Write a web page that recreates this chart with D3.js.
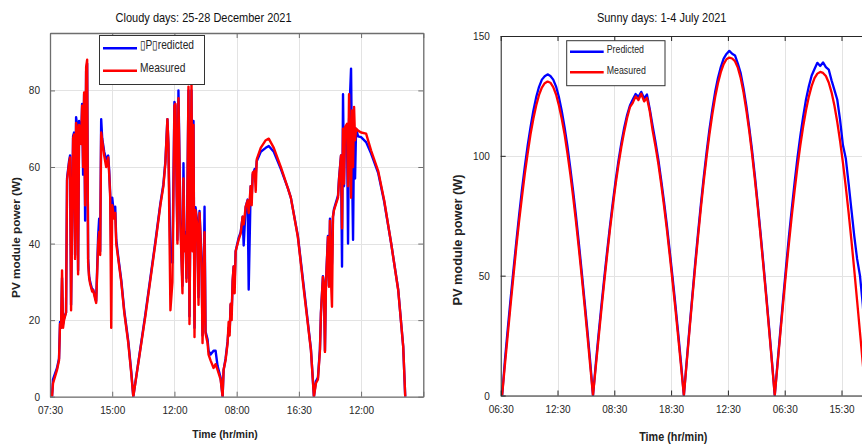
<!DOCTYPE html>
<html><head><meta charset="utf-8">
<script src="https://cdn.jsdelivr.net/npm/d3@7"></script>
<style>body{margin:0;background:#fff}svg{display:block}</style>
</head><body>
<svg id="c" width="862" height="445"></svg>
<script>
// ---------- DATA ----------
const cloudyTickLabels = ["07:30","15:00","12:00","08:00","16:30","12:00"];
const cloudyYTicks = [0,20,40,60,80];
const cloudySample = [2,3,7,9,10,11,12,13,14,16,17,19,20,21,23,24,25,26,27,28,29,31,32,33,34,35,36,37,38,39,40,42,43,45,46,48,49,50,51,52,54,56,58,59,60,61,62,64,65,66,68,71,74,78,81,83,
 95,105,110,113,115,117,118,120,122,124,125,127,128,130,132,133,134,135,136,138,139,141,142,143,144,145,147,148,149,151,152,153,154,155,157,158,160,163,165,167,170,172,
 173,175,177,178,179,180,181,182,183,184,185,188,190,192,193,195,197,198,200,201,202,204,205,206,210,215,218,223,230,237,240,247,253,260,263,
 265,267,269,270,272,273,274,275,277,278,279,280,281,282,283,287,288,290,291,292,293,294,296,297,298,300,301,302,303,304,305,307,310,315,320,327,333,340,347,352,354];
const cloudyMeasured = [0,3.5,7,9.5,19,18,33,18,20,22,56.5,61,62.5,22.6,67.5,68.5,36,71.5,70,32,71,66,76,60,79.5,50,86,88,35,31,29.5,27.5,27.8,25.5,24.5,40,43,37,69,67,63,60,62.5,58,52,18,50,46.5,48,40,36,30,22,14,6,0,
 21,40,50,55,61,72.5,66,22.6,30,76,76.5,40,78,45,27,57,38,42,30,81,19,82,38,71,15.6,48.7,44,24,48,35,14,26,43,16.5,14,11,9.5,7.5,8.5,7,4.5,0,
 7,9.6,14,19.5,16,24.3,20,30.4,34,27,38,41,42.6,47,45,49.6,51.3,48,55,50,58.5,59,53.5,62,65,67,67.4,65,60,54.5,52,41.7,27.8,12.2,0,
 3.5,4.5,12,21.7,31.3,29,11.7,29.6,41.7,28.7,46,30.4,23.5,47,48.7,52,56.5,63,44,70,55.6,70.4,71.3,55,79,52,74.8,60,75.7,67,70,69.5,69,68.7,64.3,59,51.3,40,27.8,13,0];
const cloudyPredicted = [0,4.5,7.5,10,19.5,18,31,19,20.5,22,57,61.5,63,24,68,69,37,73,71,33,72,67,76.5,58,79,46,85,87,36,31.5,30,28,28,26,25,42,46.5,38,72.5,67.5,64,62,63,59,53,38,52,47,49.6,41,36.5,30.5,22.5,14.5,6.5,0,
 21.5,40.5,50.5,55.5,61.5,72.5,66,36,35,77,76,41,80,46,29,61,39,43,31,80,21,80,39,72,18,49.5,45,26,48.5,36,16,27,49.6,17,15,12,11,12,12,8,5,0,
 7,10,14.5,18,17,24,22,30,34,30,38,41.5,43,47,39.5,49.6,51.5,28,55,52,58,59.5,58,61.5,64,65,65.5,64,59.5,54.5,52,42,28.5,12.5,0,
 4,5,12.5,22,31.5,29,12,30,42,29,46.5,31,35,47,49,52.5,57,63,34,79,55,70,70,40,72,85.7,60,41,70,57,70,68,67.8,66.5,63.5,58.5,51,40,28,13,0];

const sunnyTickLabels = ["06:30","12:30","08:30","18:30","12:30","06:30","15:30"];
const sunnyYTicks = [0,50,100,150];
const sunnyMeasured = [0,
 13,25.5,38,50,62,73,83,92.6,101,109,115.5,121,125.4,128.5,130.3,131,130.5,128.7,125.6,121,115.5,109,101,92.5,83,72.7,61.6,50,38,25.5,12.7,0,
 12.2,24.4,36.3,47.8,58.9,69.5,79.2,88.4,96.6,103.9,110.2,115.8,120.3,122.1,124.8,123.3,125.9,122.7,124.2,118.5,110.5,104,96.8,88.3,79.2,69.4,58.8,47.7,36.3,24.4,12.2,0,
 13.8,27.5,40.9,54,66.4,78.4,89.4,99.7,109,117.2,124.4,130.3,134.9,138.3,140.3,141,140.6,139.5,136.8,132.5,126.5,119,110.5,100.8,90.2,78.8,66.6,54,40.9,27.5,13.8,0,
 13.2,26.3,39.2,51.7,63.6,75,85.6,95.5,104.4,112.2,119,124.7,129.2,132.4,134.3,135,134.6,133.3,130.6,126.5,121,114.2,106.2,97.2,87.2,76.3,64.6,52.3,39.5,26.5,13.4,0];
const sunnyPredicted = [0,
 15,28,40.5,52.5,64.2,75.5,86,95.6,104.3,112,118.8,124.5,128.8,131.8,133.2,134,133.3,131.8,128.9,124.5,118.7,111.8,104,95,85.4,75,63.8,52,39.8,27.5,14.5,0,
 13.5,26,38,49.5,60.5,71,80.8,90,98.2,105.5,111.8,117,121,123.5,125.8,124.6,126.7,124,125.6,119.5,112.5,105.8,98.5,90,81,71.2,60.5,49.5,38,26,13.5,0,
 14.5,28.5,42,55.5,68,80,91.2,101.5,111,119.3,126.6,132.5,137,140.6,142.5,143.8,142.6,141.9,138.5,134.5,128.2,120.8,112,102.4,91.6,80,67.8,55,42,28.5,14.5,0,
 14,27.6,41,54,66.5,78,89,99.2,108.3,116.3,123.5,129,133.5,136.2,138.8,137.5,139,137,136,131.5,127.5,123.5,115,104.5,99,88.5,77.5,66.5,57,50,38,20];

const legendCloudy = ["\u25AFP\u25AFredicted","Measured"];
const legendSunny = ["Predicted","Measured"];

// ---------- DRAW ----------
const FONT = '"Liberation Sans", Arial, Helvetica, sans-serif';
const TXT = "#262626";
const svg = d3.select("#c");
svg.append("rect").attr("width",862).attr("height",445).attr("fill","#fff");

function squishText(g, x, y, str, size, opts={}) {
  const t = g.append("text")
    .attr("transform", `translate(${x},${y}) scale(${opts.sq||0.88},1)`)
    .attr("text-anchor", opts.anchor||"start")
    .attr("font-family", FONT).attr("font-size", size)
    .attr("font-weight", opts.weight||"normal")
    .attr("fill", opts.fill||TXT).text(str);
  return t;
}

function panel(o) {
  const g = svg.append("g");
  const [x0,x1] = o.x.range(), [y0,y1] = o.y.range();
  const clipId = "clip" + o.id;
  g.append("clipPath").attr("id", clipId).append("rect")
    .attr("x", x0).attr("y", y1).attr("width", x1-x0).attr("height", y0-y1);
  // grid
  const grid = g.append("g").attr("stroke","#e3e3e3").attr("stroke-width",1);
  o.xTicks.forEach(v => grid.append("line").attr("x1",Math.round(o.x(v))+0.5).attr("x2",Math.round(o.x(v))+0.5).attr("y1",y1).attr("y2",y0));
  o.yTicks.forEach(v => grid.append("line").attr("y1",Math.round(o.y(v))+0.5).attr("y2",Math.round(o.y(v))+0.5).attr("x1",x0).attr("x2",x1));
  // lines
  const lines = g.append("g").attr("clip-path", `url(#${clipId})`);
  const line = d3.line().x((d)=>o.x(d[0])).y((d)=>o.y(d[1]));
  const mk = (vals) => vals.map((v,i)=>[o.xs[i], v]);
  lines.append("path").attr("d", line(mk(o.pred))).attr("fill","none")
    .attr("stroke","#0000ff").attr("stroke-width",o.lw).attr("stroke-linejoin","round");
  lines.append("path").attr("d", line(mk(o.meas))).attr("fill","none")
    .attr("stroke","#ff0000").attr("stroke-width",o.lw).attr("stroke-linejoin","round");
  // axes
  const style = (sel) => {
    sel.select(".domain").attr("stroke", o.axisColor).attr("stroke-width", o.axisW);
    sel.selectAll(".tick line").attr("stroke", o.axisColor).attr("stroke-width", 1);
    sel.selectAll("text").attr("font-family", FONT).attr("font-size", 11).attr("fill", TXT);
  };
  const gb = g.append("g").attr("transform",`translate(0,${y0})`)
    .call(d3.axisBottom(o.x).tickValues(o.xTicks).tickFormat((d,i)=>o.xLabels[i]||"")
      .tickSizeInner(-5).tickSizeOuter(0).tickPadding(10)).call(style);
  gb.selectAll("text").attr("transform","scale(0.91,1)");
  const gt = g.append("g").attr("transform",`translate(0,${y1})`)
    .call(d3.axisTop(o.x).tickValues(o.xTicks).tickFormat("").tickSizeInner(-5).tickSizeOuter(0)).call(style);
  const gl = g.append("g").attr("transform",`translate(${x0},0)`)
    .call(d3.axisLeft(o.y).tickValues(o.yTicks).tickFormat(d3.format("d"))
      .tickSizeInner(-5).tickSizeOuter(0).tickPadding(o.yPad)).call(style);
  gl.selectAll("text").attr("transform","scale(0.91,1)");
  if (o.rightAxis) {
    g.append("g").attr("transform",`translate(${x1},0)`)
      .call(d3.axisRight(o.y).tickValues(o.yTicks).tickFormat("").tickSizeInner(-5).tickSizeOuter(0)).call(style);
  }
  // legend
  const L = o.leg;
  g.append("rect").attr("x",L.x).attr("y",L.y).attr("width",L.w).attr("height",L.h)
    .attr("fill","#fff").attr("stroke","#333").attr("stroke-width",1);
  [["#0000ff",L.r1,L.b1,o.legend[0]],["#ff0000",L.r2,L.b2,o.legend[1]]].forEach(([c,ly,by,s])=>{
    g.append("line").attr("x1",L.lx0).attr("x2",L.lx1).attr("y1",ly).attr("y2",ly)
      .attr("stroke",c).attr("stroke-width",2.5);
    squishText(g, L.tx, by, s, L.fs, {sq:L.sq});
  });
  // titles
  squishText(g, o.title.x, o.title.y, o.title.text, 12.5, {anchor:"middle", sq:0.88, fill:"#111"});
  squishText(g, o.xl.x, o.xl.y, "Time (hr/min)", o.xl.fs, {anchor:"middle", weight:"bold", sq:0.9, fill:"#222"});
  g.append("text").attr("transform",`translate(${o.yl.x},${o.yl.y}) rotate(-90)`)
    .attr("text-anchor","middle").attr("font-family",FONT).attr("font-size",o.yl.fs)
    .attr("font-weight","bold").attr("fill","#222").text("PV module power (W)");
}

// Cloudy panel
const xC = d3.scaleLinear().domain([0, 372]).range([50, 423.3]);
const yC = d3.scaleLinear().domain([0, 95]).range([396.7, 33]);
panel({
  id:"C", x:xC, y:yC, xs:cloudySample, meas:cloudyMeasured, pred:cloudyPredicted, lw:2.4,
  xTicks: cloudyTickLabels.map((d,i)=>i*62).concat([372]), xLabels: cloudyTickLabels,
  yTicks: cloudyYTicks, yPad: 11, axisColor:"#6e6e6e", axisW:1.3, rightAxis:true,
  legend: legendCloudy,
  leg:{x:99.5,y:35.5,w:105,h:49,lx0:103,lx1:137,r1:48.3,r2:70.7,tx:140,b1:49.3,b2:72.3,fs:12,sq:0.85},
  title:{x:203.6,y:21.5,text:"Cloudy days: 25-28 December 2021"},
  xl:{x:225,y:438,fs:11.5},
  yl:{x:19.5,y:237.5,fs:11.75}
});

// Sunny panel
const xS = d3.scaleLinear().domain([-0.5, 139.5]).range([500.7, 500.7 + 7*56.8]);
const yS = d3.scaleLinear().domain([0, 150]).range([395.5, 36]);
panel({
  id:"S", x:xS, y:yS, xs:sunnyMeasured.map((d,i)=>i), meas:sunnyMeasured, pred:sunnyPredicted, lw:2.3,
  xTicks: sunnyTickLabels.map((d,i)=>i*20-0.5), xLabels: sunnyTickLabels,
  yTicks: sunnyYTicks, yPad: 12, axisColor:"#262626", axisW:1, rightAxis:false,
  legend: legendSunny,
  leg:{x:566.7,y:40.7,w:98.3,h:45,lx0:570,lx1:603.7,r1:51.7,r2:72.3,tx:606.7,b1:53.3,b2:74,fs:10.5,sq:0.84},
  title:{x:661.7,y:21.5,text:"Sunny days: 1-4 July 2021"},
  xl:{x:673.3,y:440.5,fs:12},
  yl:{x:461.5,y:240,fs:12.75}
});
</script>
</body></html>
